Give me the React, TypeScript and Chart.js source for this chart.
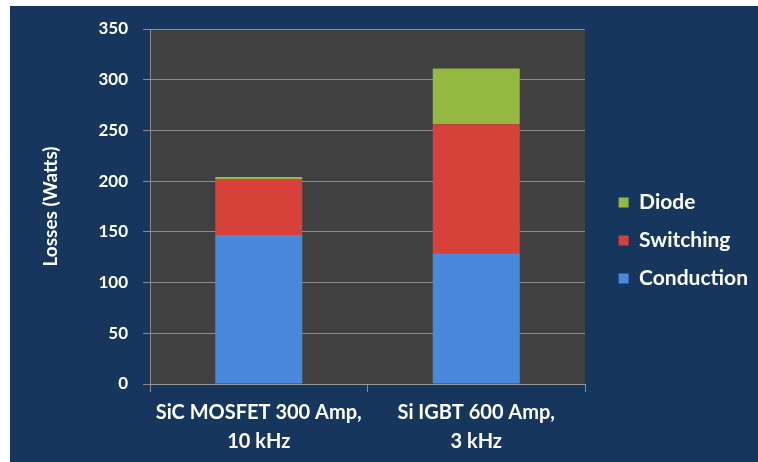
import React, { useEffect, useRef } from "react";
import { Chart, registerables } from "chart.js";

Chart.register(...registerables);

const categories: string[][] = [
  ["SiC MOSFET 300 Amp,", "10 kHz"],
  ["Si IGBT 600 Amp,", "3 kHz"],
];
const conduction = [147, 129];
const switching = [55, 127];
const diode = [2, 55];
const yTicks = [0, 50, 100, 150, 200, 250, 300, 350];
const seriesNames = ["Conduction", "Switching", "Diode"];

const FONT = "Lato, 'Open Sans', sans-serif";

function barGradient(ctx: any, edge: string, mid: string) {
  const chart = ctx.chart;
  const el = ctx.element as any;
  if (!chart.chartArea || !el || el.width == null) return mid;
  const x0 = el.x - el.width / 2;
  const x1 = el.x + el.width / 2;
  if (!isFinite(x0) || !isFinite(x1) || x1 <= x0) return mid;
  const g = chart.ctx.createLinearGradient(x0, 0, x1, 0);
  g.addColorStop(0, edge);
  g.addColorStop(0.12, mid);
  g.addColorStop(0.88, mid);
  g.addColorStop(1, edge);
  return g;
}

const bgPlugin = {
  id: "bgPlugin",
  beforeDraw(chart: any) {
    const { ctx, width, height, chartArea } = chart;
    ctx.save();
    ctx.fillStyle = "#ffffff";
    ctx.fillRect(0, 0, width, height);
    ctx.fillStyle = "#17365e";
    ctx.fillRect(10, 6, width - 10, height - 6);
    ctx.fillStyle = "#404040";
    ctx.fillRect(chartArea.left, chartArea.top, chartArea.right - chartArea.left, chartArea.bottom - chartArea.top);
    ctx.restore();
  },
};

export default function App() {
  const ref = useRef<HTMLCanvasElement>(null);
  useEffect(() => {
    if (!ref.current) return;
    const cols = ["#4a88dc", "#d8403a", "#95b940"];
    const chart = new Chart(ref.current, {
      type: "bar",
      data: {
        labels: categories,
        datasets: [
          {
            label: seriesNames[0],
            data: conduction,
            backgroundColor: (c: any) => barGradient(c, "#3468b4", "#4a88dc"),
          },
          {
            label: seriesNames[1],
            data: switching,
            backgroundColor: (c: any) => barGradient(c, "#a82a24", "#d8403a"),
          },
          {
            label: seriesNames[2],
            data: diode,
            backgroundColor: (c: any) => barGradient(c, "#6f8c2c", "#95b940"),
          },
        ],
      },
      options: {
        responsive: false,
        animation: false,
        categoryPercentage: 0.8,
        barPercentage: 0.5,
        layout: { padding: { left: 10, top: 29, bottom: 10, right: 0 } },
        plugins: {
          legend: {
            position: "right",
            reverse: true,
            maxWidth: 300,
            labels: {
              color: "#ffffff",
              font: { family: FONT, size: 21, weight: "bold" },
              boxWidth: 10,
              boxHeight: 10,
              padding: 17,
              generateLabels: (chart: any) =>
                chart.data.datasets.map((d: any, i: number) => ({
                  text: d.label,
                  fillStyle: cols[i],
                  strokeStyle: cols[i],
                  lineWidth: 0,
                  fontColor: "#ffffff",
                  datasetIndex: i,
                  hidden: false,
                })),
            },
          },
          tooltip: { enabled: false },
        },
        scales: {
          x: {
            stacked: true,
            grid: {
              display: true,
              drawOnChartArea: false,
              drawTicks: true,
              tickLength: 8,
              color: "#8c8c8c",
            },
            border: { color: "#9a9a9a" },
            ticks: {
              color: "#ffffff",
              font: { family: FONT, size: 20, weight: "bold", lineHeight: 1.45 },
              padding: 6,
              maxRotation: 0,
            },
            afterFit: (s: any) => {
              s.height = 68;
            },
          },
          y: {
            stacked: true,
            min: 0,
            max: 350,
            afterBuildTicks: (s: any) => {
              s.ticks = yTicks.map((v) => ({ value: v }));
            },
            grid: {
              color: "#8c8c8c",
              tickLength: 7,
              drawTicks: true,
            },
            border: { color: "#8c8c8c" },
            ticks: {
              color: "#ffffff",
              font: { family: FONT, size: 17, weight: "bold" },
              padding: 15,
            },
            title: {
              display: true,
              text: "Losses (Watts)",
              color: "#ffffff",
              font: { family: FONT, size: 19, weight: "bold" },
              padding: { top: 29, bottom: 0 },
            },
            afterFit: (s: any) => {
              s.width = 140;
            },
          },
          y2: {
            type: "linear",
            position: "right",
            display: true,
            grid: { display: false, drawTicks: false },
            border: { display: false },
            ticks: { display: false },
            afterFit: (s: any) => {
              const lw = s.chart.legend ? s.chart.legend.width : 150;
              s.width = Math.max(0, 758 - 585 - lw);
            },
          },
        },
      } as any,
      plugins: [bgPlugin],
    });
    return () => chart.destroy();
  }, []);
  return (
    <div style={{ position: "absolute", left: 0, top: 0, width: 758, height: 462 }}>
      <canvas ref={ref} width={758} height={462} style={{ display: "block" }} />
    </div>
  );
}
